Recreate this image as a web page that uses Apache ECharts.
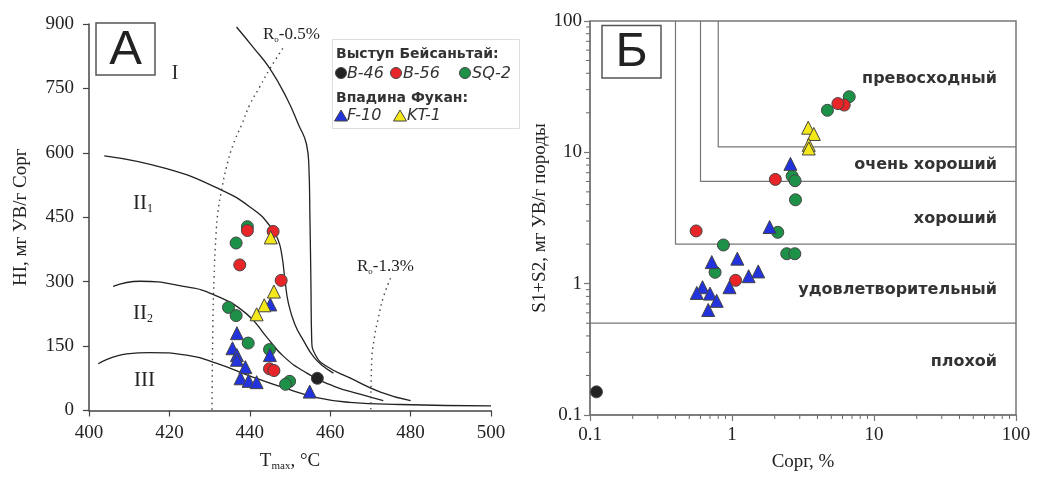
<!DOCTYPE html>
<html lang="ru">
<head>
<meta charset="UTF-8" />
<title>HI – Tmax / S1+S2 – Сорг</title>
<script src="https://cdn.jsdelivr.net/npm/echarts@6/dist/echarts.min.js"></script>
<style>
  html, body { margin: 0; padding: 0; background: #fff; }
  #chart { width: 1037px; height: 477px; }
</style>
</head>
<body>
<div id="chart"></div>
<script>
// ---------- панель А: HI – Tmax ----------
const b46A = [[456.8, 75]];
const sq2A = [[439.4, 428], [436.6, 390], [434.7, 240], [436.6, 221], [439.6, 157], [444.9, 142], [449.9, 68], [448.9, 61]];
const b56A = [[439.4, 419], [445.8, 417], [437.5, 339], [447.8, 303], [444.9, 97], [446, 93]];
const f10A = [[445.1, 247], [436.8, 180], [435.7, 145], [436.8, 129], [436.8, 118], [445, 129], [438.9, 101], [437.7, 75], [439.7, 69], [441.7, 66], [454.9, 44]];
const kt1A = [[445.2, 403], [446, 277], [443.6, 245], [441.7, 224]];

// границы типов керогена
const typeI = [[436.7, 893], [440.9, 845], [445, 796], [449.2, 727], [452.1, 666], [454.1, 620], [454.7, 567], [454.95, 453], [455.2, 300], [455.4, 165], [456.4, 128], [459.1, 103], [464.9, 76], [472.5, 43], [480, 23]];
const typeII1 = [[403.8, 593], [419.3, 563], [432.6, 515], [440.9, 468], [445, 430], [447, 398], [448, 360], [448.8, 300], [449.6, 250], [451.2, 201], [453.3, 164], [455.8, 126], [458.3, 103], [460.8, 87]];
const typeII2 = [[406, 289], [412.7, 301], [423.5, 289], [431, 270], [439.2, 225], [444.2, 171], [448.4, 126], [454.2, 87], [460.8, 57], [467.4, 38], [473.2, 23]];
const typeIII = [[402.3, 109], [409.4, 132], [415.2, 135], [424.3, 129], [431.8, 110], [440.1, 80], [448.4, 53], [456.7, 30], [464.9, 19], [477.4, 14], [500, 11]];
const ro05 = [[448.2, 843], [445, 796], [442.5, 754], [440, 712], [438, 666], [435.9, 620], [434.2, 567], [433, 514], [432.1, 464], [431.6, 410], [431.1, 308], [430.8, 194], [430.6, 0]];
const ro13 = [[475, 308], [473.2, 263], [472, 217], [470.9, 164], [470.3, 110], [470.1, 0]];

// ---------- панель Б: S1+S2 – Сорг ----------
const b46B = [[0.111, 0.15]];
const sq2B = [[6.69, 26.5], [4.7, 20.9], [2.65, 6.59], [2.78, 6.08], [2.8, 4.35], [2.1, 2.46], [0.87, 1.97], [2.43, 1.69], [2.77, 1.69], [0.76, 1.22]];
const b56B = [[6.17, 22.9], [5.57, 23.5], [2.02, 6.22], [0.559, 2.52], [1.06, 1.06]];
const f10B = [[2.58, 8.17], [1.84, 2.7], [0.72, 1.46], [1.09, 1.55], [1.53, 1.24], [1.31, 1.14], [0.96, 0.94], [0.62, 0.94], [0.565, 0.85], [0.7, 0.84], [0.78, 0.74], [0.68, 0.63]];
const kt1B = [[3.44, 15.4], [3.77, 13.8], [3.47, 11.4], [3.47, 10.7]];

const poorLine = [[0.1, 0.5], [100, 0.5]];
const fairLine = [[0.4, 100], [0.4, 2], [100, 2]];
const goodLine = [[0.6, 100], [0.6, 6], [100, 6]];
const vgoodLine = [[0.8, 100], [0.8, 11], [100, 11]];
const logMinor = [0.2, 0.3, 0.4, 0.5, 0.6, 0.7, 0.8, 0.9, 2, 3, 4, 5, 6, 7, 8, 9, 20, 30, 40, 50, 60, 70, 80, 90];

const colors = { b46: '#222222', b56: '#e8262a', sq2: '#1e9148', f10: '#2233dd', kt1: '#f4e81a' };
const serif = '"Liberation Serif", "DejaVu Serif", serif';
const sans = '"DejaVu Sans", sans-serif';

const chart = echarts.init(document.getElementById('chart'));

function axisBase(color) {
  return {
    axisLine: { lineStyle: { color: color, width: 1.5 } },
    axisTick: { length: 6, lineStyle: { color: color, width: 1.2 } },
    splitLine: { show: false },
    axisLabel: { color: '#222', fontFamily: serif, fontSize: 19 },
    nameTextStyle: { color: '#222', fontFamily: serif, fontSize: 19 },
  };
}

const sub = {
  n: { fontFamily: serif, fontSize: 19, lineHeight: 22, color: '#222' },
  s: { fontFamily: serif, fontSize: 11, lineHeight: 12, padding: [10, 0, 0, 0], color: '#222' },
};

function curve(data, idx, dotted) {
  return {
    type: 'line', xAxisIndex: idx, yAxisIndex: idx, data: data,
    smooth: 0.5, symbol: 'none', silent: true, z: 1,
    lineStyle: dotted
      ? { color: '#444', width: 1.4, type: [1.5, 4] }
      : { color: '#222', width: 1.3 },
  };
}

function frame(data) {
  return {
    type: 'line', xAxisIndex: 1, yAxisIndex: 1, data: data, symbol: 'none', silent: true, z: 1,
    lineStyle: { color: '#777', width: 1.2 },
  };
}

function pts(data, idx, color, shape) {
  return {
    type: 'scatter', xAxisIndex: idx, yAxisIndex: idx, data: data,
    symbol: shape, symbolSize: shape === 'triangle' ? 13 : 12, z: 3,
    itemStyle: { color: color, borderColor: '#444', borderWidth: 1, opacity: 1 },
  };
}

const option = {
  backgroundColor: '#fff',
  animation: false,
  grid: [
    { left: 89, top: 24, width: 402, height: 394 },
    { left: 590, top: 21, width: 426, height: 397, show: true, borderColor: '#777', borderWidth: 1.5 },
  ],
  xAxis: [
    Object.assign(axisBase('#444'), {
      gridIndex: 0, type: 'value', min: 400, max: 500, interval: 20,
      name: '{n|T}{s|max}{n|, °C}', nameLocation: 'middle', nameGap: 40,
      nameTextStyle: { rich: sub },
      axisLabel: { color: '#222', fontFamily: serif, fontSize: 19, margin: 13 },
    }),
    Object.assign(axisBase('#777'), {
      gridIndex: 1, type: 'log', logBase: 10, min: 0.1, max: 100,
      name: 'Сорг, %', nameLocation: 'middle', nameGap: 38,
      axisLabel: { color: '#222', fontFamily: serif, fontSize: 19, margin: 11, formatter: (v) => String(+v.toPrecision(3)) },
    }),
  ],
  yAxis: [
    Object.assign(axisBase('#444'), {
      gridIndex: 0, type: 'value', min: 0, max: 900, interval: 150,
      name: 'HI, мг УВ/г Сорг', nameLocation: 'middle', nameGap: 58,
      axisLabel: { color: '#222', fontFamily: serif, fontSize: 19, margin: 15 },
    }),
    Object.assign(axisBase('#777'), {
      gridIndex: 1, type: 'log', logBase: 10, min: 0.1, max: 100,
      name: 'S1+S2, мг УВ/г породы', nameLocation: 'middle', nameGap: 40,
      axisLabel: { color: '#222', fontFamily: serif, fontSize: 19, margin: 8, formatter: (v) => String(+v.toPrecision(3)) },
    }),
  ],
  series: [
    curve(typeI, 0), curve(typeII1, 0), curve(typeII2, 0), curve(typeIII, 0),
    curve(ro05, 0, true), curve(ro13, 0, true),
    pts(b46A, 0, colors.b46, 'circle'),
    pts(sq2A, 0, colors.sq2, 'circle'),
    pts(b56A, 0, colors.b56, 'circle'),
    pts(f10A, 0, colors.f10, 'triangle'),
    pts(kt1A, 0, colors.kt1, 'triangle'),

    frame(poorLine), frame(fairLine), frame(goodLine), frame(vgoodLine),
    {
      type: 'custom', xAxisIndex: 1, yAxisIndex: 1, silent: true, clip: false, z: 2,
      data: logMinor.map((v) => [v, v]),
      renderItem: (params, api) => {
        const v = api.value(0);
        const px = api.coord([v, 0.1]);
        const py = api.coord([0.1, v]);
        const st = { stroke: '#666', lineWidth: 1 };
        return {
          type: 'group',
          children: [
            { type: 'line', shape: { x1: px[0], y1: px[1], x2: px[0], y2: px[1] + 4 }, style: st },
            { type: 'line', shape: { x1: py[0], y1: py[1], x2: py[0] - 4, y2: py[1] }, style: st },
          ],
        };
      },
    },
    pts(b46B, 1, colors.b46, 'circle'),
    pts(sq2B, 1, colors.sq2, 'circle'),
    pts(b56B, 1, colors.b56, 'circle'),
    pts(f10B, 1, colors.f10, 'triangle'),
    pts(kt1B, 1, colors.kt1, 'triangle'),
  ],
};

// подписи, рамки с буквами и легенда
const txt = (x, y, text, style) => ({
  type: 'text', x: x, y: y, silent: true, z: 10,
  style: Object.assign({ text: text, fill: '#222', verticalAlign: 'middle' }, style),
});
const richTxt = (x, y, text, size) => txt(x, y, text, {
  align: 'left',
  rich: {
    n: { fontFamily: serif, fontSize: size, lineHeight: size + 4, color: '#333' },
    s: { fontFamily: serif, fontSize: Math.round(size * 0.55), lineHeight: 10, padding: [Math.round(size * 0.5), 0, 0, 0], color: '#333' },
  },
});
const dot = (x, y, color) => ({ type: 'circle', shape: { cx: x, cy: y, r: 5.5 }, style: { fill: color, stroke: '#444', lineWidth: 1 }, z: 10 });
const tri = (x, y, color) => ({ type: 'polygon', shape: { points: [[x, y - 6], [x + 6.5, y + 5], [x - 6.5, y + 5]] }, style: { fill: color, stroke: '#444', lineWidth: 1 }, z: 10 });
const catStyle = { font: 'bold 16px ' + sans, fill: '#333', align: 'right' };
const legB = { font: 'bold 14px ' + sans, fill: '#333', align: 'left' };
const legI = { font: 'italic 16px ' + sans, fill: '#333', align: 'left' };

option.graphic = [
  { type: 'rect', shape: { x: 96, y: 23, width: 59, height: 52 }, style: { fill: '#fff', stroke: '#555', lineWidth: 1.5 }, z: 9 },
  txt(125.5, 50, 'А', { font: '49px "Liberation Sans", Arial, sans-serif', align: 'center' }),
  { type: 'rect', shape: { x: 602, y: 25.5, width: 59, height: 52.5 }, style: { fill: '#fff', stroke: '#555', lineWidth: 1.5 }, z: 9 },
  txt(631.5, 52, 'Б', { font: '49px "Liberation Sans", Arial, sans-serif', align: 'center' }),

  txt(175, 73, 'I', { font: '21px ' + serif, fill: '#333', align: 'center' }),
  richTxt(133, 203, '{n|II}{s|1}', 21),
  richTxt(133, 313, '{n|II}{s|2}', 21),
  richTxt(134, 380, '{n|III}', 21),
  richTxt(263, 35, '{n|R}{s|o}{n|-0.5%}', 17),
  richTxt(357, 267, '{n|R}{s|o}{n|-1.3%}', 17),

  { type: 'rect', shape: { x: 332.5, y: 39.5, width: 187, height: 89 }, style: { fill: '#fff', stroke: '#ddd', lineWidth: 1 }, z: 9 },
  txt(336, 54, 'Выступ Бейсаньтай:', legB),
  dot(341, 73, colors.b46), txt(347, 74, 'B-46', legI),
  dot(396, 73, colors.b56), txt(403, 74, 'B-56', legI),
  dot(465, 73, colors.sq2), txt(472, 74, 'SQ-2', legI),
  txt(336, 98, 'Впадина Фукан:', legB),
  tri(341, 116, colors.f10), txt(347, 116, 'F-10', legI),
  tri(400, 116, colors.kt1), txt(407, 116, 'KT-1', legI),

  txt(997, 79, 'превосходный', catStyle),
  txt(997, 165, 'очень хороший', catStyle),
  txt(997, 219, 'хороший', catStyle),
  txt(997, 290, 'удовлетворительный', catStyle),
  txt(997, 362, 'плохой', catStyle),
];

chart.setOption(option);
</script>
</body>
</html>
